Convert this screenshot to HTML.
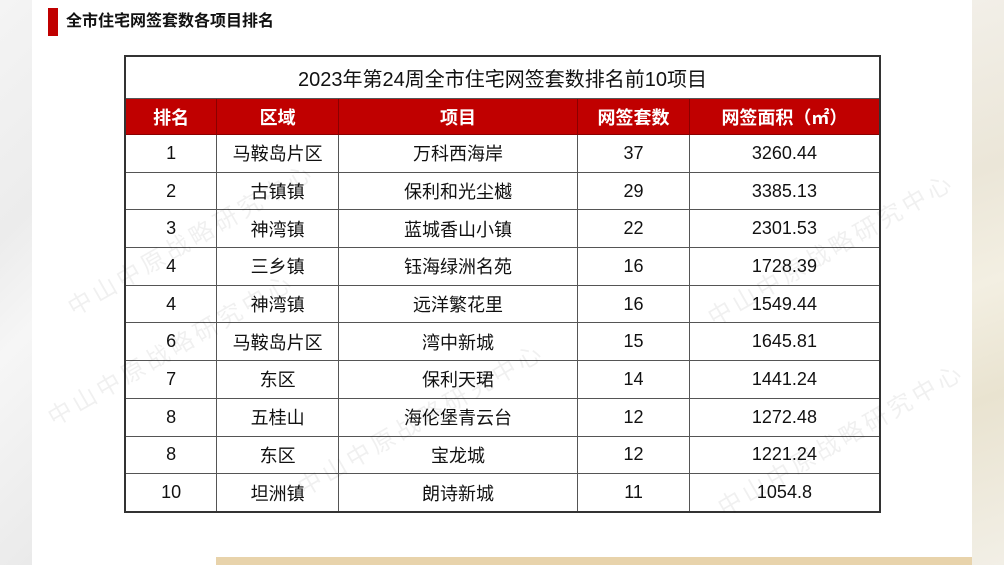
<!DOCTYPE html>
<html><head><meta charset="utf-8"><style>
html,body{margin:0;width:1004px;height:565px;}
body{background:#fff;position:relative;overflow:hidden;font-family:"Liberation Sans","Noto Sans CJK SC",sans-serif;}
.l{position:absolute;left:0;top:0;width:32px;height:565px;background:linear-gradient(135deg,#f4f4f4,#ececec 40%,#f6f6f6 60%,#eaeaea);}
.r{position:absolute;left:972px;top:0;width:32px;height:565px;background:linear-gradient(160deg,#f2efe8,#ebe6d8 30%,#f3efe2 50%,#e9e3d0 70%,#f2efe6);}
.bar{position:absolute;left:48px;top:8px;width:10px;height:28px;background:#c00000;}
.t{position:absolute;left:66px;top:10px;font-size:16px;font-weight:bold;color:#111;line-height:24px;}
.bs{position:fixed;left:216px;top:557px;width:756px;height:8px;background:#e8d3ab;z-index:5;}
table{position:absolute;left:124px;top:55px;border-collapse:collapse;border:2px solid #333;width:757px;}
td{border:1px solid #555;text-align:center;font-size:18px;color:#111;height:36.7px;padding:0;}
.cap td{height:41px;font-size:20px;}
.h td{background:#c00000;color:#fff;font-weight:bold;height:35px;border-color:#8a0000;}
.wm{position:absolute;font-size:24px;color:rgba(0,0,0,0.06);transform:rotate(-30deg);letter-spacing:4px;white-space:nowrap;z-index:3;}
</style></head><body>
<div class="l"></div><div class="r"></div>
<div class="bar"></div><div class="t">全市住宅网签套数各项目排名</div>
<table>
<colgroup><col style="width:92px"><col style="width:122px"><col style="width:240px"><col style="width:112px"><col style="width:191px"></colgroup>
<tr class="cap"><td colspan="5">2023年第24周全市住宅网签套数排名前10项目</td></tr>
<tr class="h"><td>排名</td><td>区域</td><td>项目</td><td>网签套数</td><td>网签面积（㎡）</td></tr>
<tr><td>1</td><td>马鞍岛片区</td><td>万科西海岸</td><td>37</td><td>3260.44</td></tr>
<tr><td>2</td><td>古镇镇</td><td>保利和光尘樾</td><td>29</td><td>3385.13</td></tr>
<tr><td>3</td><td>神湾镇</td><td>蓝城香山小镇</td><td>22</td><td>2301.53</td></tr>
<tr><td>4</td><td>三乡镇</td><td>钰海绿洲名苑</td><td>16</td><td>1728.39</td></tr>
<tr><td>4</td><td>神湾镇</td><td>远洋繁花里</td><td>16</td><td>1549.44</td></tr>
<tr><td>6</td><td>马鞍岛片区</td><td>湾中新城</td><td>15</td><td>1645.81</td></tr>
<tr><td>7</td><td>东区</td><td>保利天珺</td><td>14</td><td>1441.24</td></tr>
<tr><td>8</td><td>五桂山</td><td>海伦堡青云台</td><td>12</td><td>1272.48</td></tr>
<tr><td>8</td><td>东区</td><td>宝龙城</td><td>12</td><td>1221.24</td></tr>
<tr><td>10</td><td>坦洲镇</td><td>朗诗新城</td><td>11</td><td>1054.8</td></tr>
</table>
<div class="wm" style="left:50px;top:220px;">中山中原战略研究中心</div>
<div class="wm" style="left:30px;top:330px;">中山中原战略研究中心</div>
<div class="wm" style="left:690px;top:230px;">中山中原战略研究中心</div>
<div class="wm" style="left:280px;top:400px;">中山中原战略研究中心</div>
<div class="wm" style="left:700px;top:420px;">中山中原战略研究中心</div>
<div class="bs"></div>
</body></html>
